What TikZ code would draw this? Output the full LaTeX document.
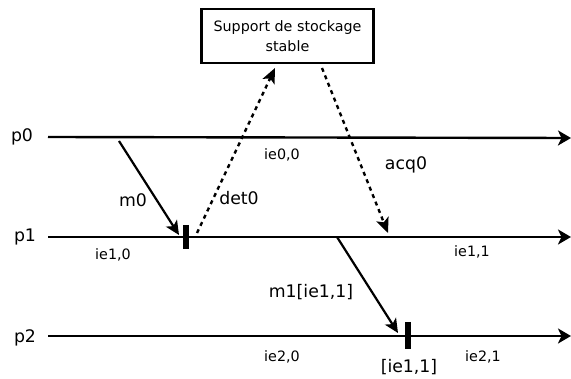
\documentclass[tikz,border=0pt]{standalone}
\usepackage{fontspec}
\setmainfont{DejaVu Sans}
\usetikzlibrary{arrows.meta}
\begin{document}
\begin{tikzpicture}[x=1pt,y=-1pt,
  big/.style={font=\fontsize{17.3}{20}\selectfont, inner sep=0pt},
  small/.style={font=\fontsize{14.3}{17}\selectfont, inner sep=0pt},
  procline/.style={line width=2.4pt, -{Stealth[length=13pt,width=15pt,inset=3.5pt]}},
  msg/.style={line width=2.2pt, -{Stealth[length=14pt,width=13pt,inset=3.5pt]}},
  dotmsg/.style={line width=2.4pt, dash pattern=on 4pt off 4pt, -{Stealth[length=15pt,width=13pt,inset=3.5pt]}},
  tick/.style={line width=6pt},
  storebox/.style={draw, line width=2.4pt, minimum width=172pt, minimum height=54pt, align=center, font=\fontsize{14.3}{20}\selectfont}]
\useasboundingbox (0,0) rectangle (571,379);

% process labels
\node[big] (p0) at (22,137) {p0};
\node[big] (p1) at (25,237) {p1};
\node[big] (p2) at (25,338) {p2};

% process lines
\coordinate (a0) at (48,137);  \coordinate (b0) at (571,138);
\coordinate (a1) at (48,237);  \coordinate (b1) at (571,237);
\coordinate (a2) at (48,336);  \coordinate (b2) at (571,336);
\draw[procline] (a0) -- (b0);
\draw[procline] (a1) -- (b1);
\draw[procline] (a2) -- (b2);

% storage box
\node[storebox] (store) at (287.5,36) {Support de stockage\\stable};

% ticks
\coordinate (t1a) at (186,225); \coordinate (t1b) at (186,249);
\coordinate (t2a) at (407.5,322); \coordinate (t2b) at (407.5,349);
\draw[tick] (t1a) -- (t1b);
\draw[tick] (t2a) -- (t2b);

% messages
\coordinate (m0s) at (119,141); \coordinate (m0e) at (179,235);
\draw[msg] (m0s) -- (m0e);
\coordinate (m1s) at (337,237); \coordinate (m1e) at (398,333);
\draw[msg] (m1s) -- (m1e);
\coordinate (d0s) at (197,233); \coordinate (d0e) at (275,68);
\draw[dotmsg] (d0s) -- (d0e);
\coordinate (q0s) at (322,68); \coordinate (q0e) at (388,233);
\draw[dotmsg] (q0s) -- (q0e);

% labels
\node[big] (lm0) at (133,200) {m0};
\node[big] (ldet) at (239,198) {det0};
\node[big] (lacq) at (406,165) {acq0};
\node[big] (lm1) at (311,292) {m1[ie1,1]};
\node[big] (lck) at (409,367) {[ie1,1]};
\node[small] (ie00) at (282,155) {ie0,0};
\node[small] (ie10) at (113,255) {ie1,0};
\node[small] (ie11) at (472,252) {ie1,1};
\node[small] (ie20) at (282,357) {ie2,0};
\node[small] (ie21) at (483,357) {ie2,1};
\end{tikzpicture}
\end{document}
